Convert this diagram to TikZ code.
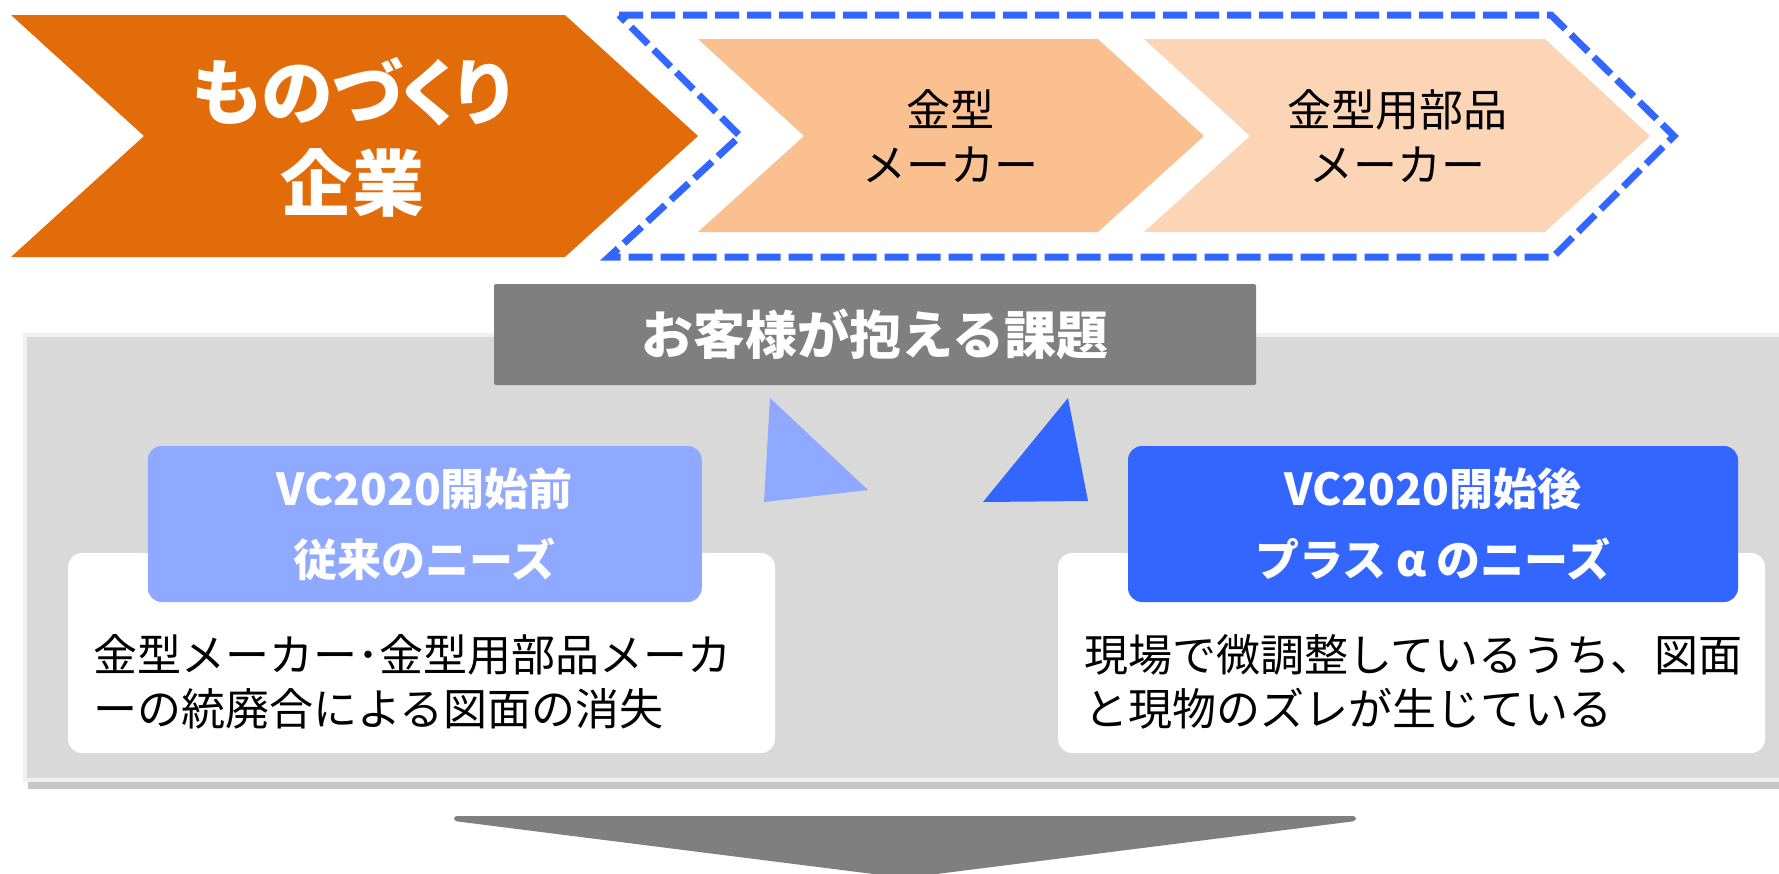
\documentclass[tikz,border=0pt]{standalone}
\usepackage{fontspec}
\newfontfamily\jp{Noto Sans CJK JP}
\newfontfamily\jpp{Noto Sans CJK JP}[RawFeature=+palt]
\definecolor{orangeD}{HTML}{E36C0A}
\definecolor{peach}{HTML}{FAC090}
\definecolor{peachL}{HTML}{FBD5B5}
\definecolor{dblue}{HTML}{3366FF}
\definecolor{lblue}{HTML}{8EA9FF}
\definecolor{panel}{HTML}{D9D9D9}
\definecolor{paneledge}{HTML}{F0F0F0}
\definecolor{titlegray}{HTML}{7F7F7F}
\tikzset{
  chevtext/.style={text=black, font=\jp\fontsize{44}{55}\selectfont, align=center},
  labelbox/.style={rounded corners=14pt, inner sep=0pt, text=white, align=center,
    font=\jp\bfseries\fontsize{44}{71}\selectfont, minimum height=156pt},
  whitebox/.style={fill=white, rounded corners=14pt, inner sep=0pt, minimum width=707pt, minimum height=200pt},
  bodytext/.style={text=black, font=\jp\fontsize{44}{54}\selectfont, align=left, anchor=west, inner sep=0pt}
}
\begin{document}
\begin{tikzpicture}[x=1pt,y=-1pt]
\useasboundingbox (0,0) rectangle (1779,873);
% top chevrons
\fill[orangeD] (11,15) -- (565,15) -- (698,136) -- (565,257) -- (11,257) -- (144,136) -- cycle;
\node[text=white, font=\jpp\bfseries\fontsize{72}{91}\selectfont, align=center] (mono) at (352,137) {ものづくり\\企業};
\fill[peach] (698,39) -- (1098,39) -- (1204,136) -- (1098,232) -- (698,232) -- (804,136) -- cycle;
\node[chevtext] (kanagata) at (950,136) {金型\\メーカー};
\fill[peachL] (1144,39) -- (1545,39) -- (1650,136) -- (1545,232) -- (1144,232) -- (1250,136) -- cycle;
\node[chevtext] (buhin) at (1397,136) {金型用部品\\メーカー};
\draw[dblue, line width=7pt, dash pattern=on 24pt off 8pt]
  (619,15) -- (1551,15) -- (1674,136) -- (1553,257) -- (609,257) -- (740,136) -- cycle;
% panel
\fill[gray, opacity=0.45] (28,342) rectangle (1790,789);
\filldraw[fill=panel, draw=paneledge, line width=4pt] (25,335) rectangle (1790,780);
% title
\node[fill=titlegray, rounded corners=2pt, minimum width=762pt, minimum height=101pt, inner sep=0pt,
  text=white, font=\jp\bfseries\fontsize{52}{60}\selectfont] (title) at (875,334.5) {お客様が抱える課題};
% triangles
\fill[lblue] (770,398) -- (868,490) -- (764,502) -- cycle;
\fill[dblue] (1068,398) -- (1088,501) -- (983,502) -- cycle;
% left side
\node[whitebox] (lwhite) at (421.5,653) {};
\node[labelbox, fill=lblue, minimum width=554pt] (llabel) at (424.75,524) {VC2020開始前\\従来のニーズ};
\node[bodytext] (ltext) at (93,682) {金型メーカー･金型用部品メーカ\\ーの統廃合による図面の消失};
% right side
\node[whitebox] (rwhite) at (1411.5,653) {};
\node[labelbox, fill=dblue, minimum width=610pt] (rlabel) at (1433,524) {VC2020開始後\\プラス α のニーズ};
\node[bodytext] (rtext) at (1084,682) {現場で微調整しているうち、図面\\と現物のズレが生じている};
% bottom arrow
\fill[titlegray, rounded corners=3pt] (454,816) -- (1356,816) -- (1356,821) -- (905,878) -- (454,821) -- cycle;
\end{tikzpicture}
\end{document}
